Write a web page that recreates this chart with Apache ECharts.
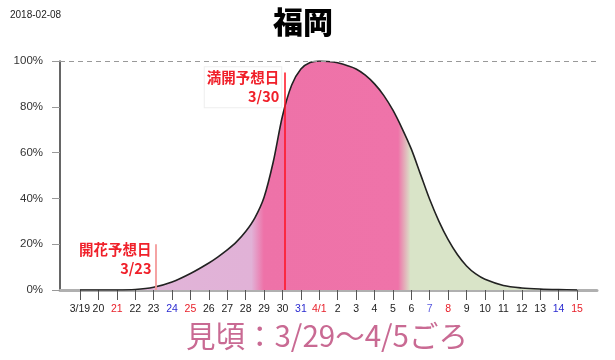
<!DOCTYPE html>
<html><head><meta charset="utf-8">
<script src="https://cdn.jsdelivr.net/npm/echarts@6/dist/echarts.min.js"></script>
<style>html,body{margin:0;padding:0;background:#fff}#c{width:615px;height:360px}</style>
</head><body><div id="c"></div>
<script>
// day 0 = 3/19
const tickDays = [0,1,2,3,4,5,6,7,8,9,10,11,12,13,14,15,16,17,18,19,20,21,22,23,24,25,26,27];
const tickLabels = ['3/19','20','21','22','23','24','25','26','27','28','29','30','31','4/1','2','3','4','5','6','7','8','9','10','11','12','13','14','15'];
const labelColors = ['#222','#222','#e8202a','#222','#222','#2a2ad0','#e8202a','#222','#222','#222','#222','#222','#2a2ad0','#e8202a','#222','#222','#222','#222','#222','#5a5ae0','#e8202a','#222','#222','#222','#222','#222','#2a2ad0','#e8202a'];
const curveDays = [0,1,2,3,4,5,6,7,7.5,8,8.5,9,9.5,10,10.5,11,11.5,12,12.5,13,13.5,14,14.5,15,15.5,16,16.5,17,17.5,18,18.5,19,19.5,20,20.5,21,21.5,22,23,24,25,26,27];
const curveVals = [0,0,0,0.2,1.2,3.5,7.2,11.8,14.5,17.5,21,25.5,31.5,40.5,56,76,89.5,96.5,99.3,100,99.8,99.2,98,96.5,93.8,90,85,78.5,70.5,61.5,50.5,39.5,30,22,15.5,10.5,7,4.7,2,0.9,0.4,0.15,0];
const yTicks = [0,20,40,60,80,100];
const bloomDay = 4.1, bloomLabel = '開花予想日\n3/23';
const fullDay = 11.15, fullLabel = '満開予想日\n3/30';
const titleText = '福岡';
const dateText = '2018-02-08';
const bestText = '見頃：3/29～4/5ごろ';

const chart = echarts.init(document.getElementById('c'));
chart.setOption({
  animation: false,
  title: [
    {text: titleText, left: 268, top: 2, textStyle: {fontFamily: 'Noto Sans CJK JP', fontSize: 30, fontWeight: 900, color: '#000'}},
    {text: dateText, left: 5, top: 5, textStyle: {fontFamily: 'Liberation Sans', fontSize: 10, fontWeight: 'normal', color: '#222'}},
    {text: bestText, left: 181, top: 316, textStyle: {fontFamily: 'Noto Sans CJK JP', fontSize: 29.5, fontWeight: 'normal', color: '#c96a93'}}
  ],
  grid: {left: 60, right: 18, top: 61, bottom: 70},
  xAxis: {
    type: 'value', min: -1.086, max: 28.086,
    axisLine: {show: true, onZero: false, lineStyle: {color: '#b0b0b0', width: 3}},
    axisTick: {show: true, customValues: tickDays, length: 10, lineStyle: {color: '#555', width: 1}},
    axisLabel: {customValues: tickDays, margin: 14, fontFamily: 'Liberation Sans', fontSize: 10.5,
      formatter: v => tickLabels[tickDays.indexOf(Math.round(v))] || '',
      color: v => labelColors[tickDays.indexOf(Math.round(Number(v)))] || '#222'},
    splitLine: {show: false}
  },
  yAxis: {
    type: 'value', min: 0, max: 100, interval: 20,
    axisLine: {show: true, onZero: false, lineStyle: {color: '#333', width: 1.5}},
    axisTick: {show: true, length: 8, lineStyle: {color: '#999'}},
    axisLabel: {formatter: '{value}%', margin: 17, fontFamily: 'Liberation Sans', fontSize: 11.5, color: '#333'},
    splitLine: {show: false}
  },
  series: [{
    type: 'line',
    data: curveDays.map((d, i) => [d, curveVals[i]]),
    smooth: 0.3,
    symbol: 'none',
    lineStyle: {color: '#222', width: 1.6},
    areaStyle: {opacity: 1, color: new echarts.graphic.LinearGradient(0, 0, 1, 0, [
      {offset: 0, color: '#e1b5d9'},
      {offset: 0.345, color: '#e1b2d7'},
      {offset: 0.37, color: '#ee72a8'},
      {offset: 0.64, color: '#ef73a9'},
      {offset: 0.665, color: '#d9e4c8'},
      {offset: 1, color: '#d9e4c8'}
    ])},
    markLine: {
      symbol: 'none', silent: true, label: {show: false},
      data: [
        {yAxis: 100, lineStyle: {type: [5, 4], color: '#999', width: 1}},
        [{coord: [bloomDay, 0], lineStyle: {type: 'solid', color: '#f49a9a', width: 1.8}}, {coord: [bloomDay, 20]}],
        [{coord: [fullDay, 0], lineStyle: {type: 'solid', color: '#ff1020', width: 1.5}}, {coord: [fullDay, 95]}]
      ]
    },
    markPoint: {
      symbol: 'circle', symbolSize: 0, silent: true,
      label: {show: true, position: 'left', distance: 4, align: 'right', color: '#f0202a', fontFamily: 'Noto Sans CJK JP', fontWeight: 'bold', fontSize: 14.5, lineHeight: 19},
      data: [
        {coord: [bloomDay, 13.5], label: {formatter: bloomLabel}},
        {coord: [fullDay, 88.5], label: {formatter: fullLabel, backgroundColor: '#fff', borderColor: '#eee', borderWidth: 1, padding: [1, 2]}}
      ]
    }
  }]
});
</script></body></html>
